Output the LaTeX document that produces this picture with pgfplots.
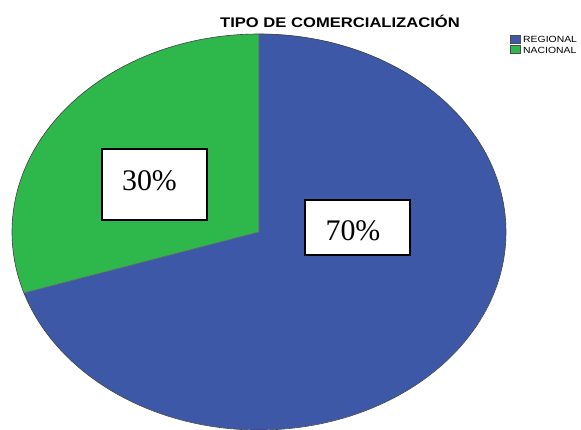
\documentclass[border=0pt]{standalone}
\usepackage{fontspec}
\setmainfont{Liberation Serif}
\newfontfamily\arial{Liberation Sans}
\usepackage{pgfplots}
\pgfplotsset{compat=1.18}
\definecolor{pieblue}{HTML}{3E58A8}
\definecolor{piegreen}{HTML}{2EB74B}
% data: share of each category (percent)
\def\valRegional{70}
\def\valNacional{30}
\begin{document}
\begin{tikzpicture}
\path[use as bounding box] (0,0) rectangle (581bp,430bp);
\pgfmathsetmacro{\angG}{90+3.6*\valNacional}
\pgfmathsetmacro{\angB}{\angG+3.6*\valRegional}
\begin{axis}[
  at={(0,0)}, anchor=south west,
  x=1bp, y=1bp, scale only axis,
  xmin=0, xmax=581, ymin=0, ymax=430,
  hide axis, clip=true,
]
% pie sectors (elliptical)
\fill[piegreen] (axis cs:259,198) -- (axis cs:259,396) arc[start angle=90, end angle=\angG, x radius=247bp, y radius=198bp] -- cycle;
\fill[pieblue] (axis cs:259,198) -- (axis cs:24,137) arc[start angle=\angG, end angle=\angB, x radius=247bp, y radius=198bp] -- cycle;
\draw[black!75, line width=0.6bp] (axis cs:259,396) arc[start angle=90, end angle=450, x radius=247bp, y radius=198bp];
\draw[black!60, line width=0.6bp] (axis cs:259,396) -- (axis cs:259,198) -- (axis cs:24,137);
% title
\node[anchor=base, xscale=1.19, font=\arial\bfseries\fontsize{14}{15}\selectfont, inner sep=0pt] at (axis cs:340,402.5) {TIPO DE COMERCIALIZACIÓN};
% legend
\draw[black!70, line width=0.6bp, fill=pieblue] (axis cs:510.5,387) rectangle (axis cs:520.5,395);
\draw[black!70, line width=0.6bp, fill=piegreen] (axis cs:510.5,376.5) rectangle (axis cs:520.5,384.5);
\node[anchor=base west, xscale=1.16, font=\arial\fontsize{9}{10}\selectfont, inner sep=0pt] at (axis cs:523,387.3) {REGIONAL};
\node[anchor=base west, xscale=1.16, font=\arial\fontsize{9}{10}\selectfont, inner sep=0pt] at (axis cs:523,376.8) {NACIONAL};
% value boxes
\node[draw=black, line width=2bp, fill=white, minimum width=105bp, minimum height=71bp, inner sep=0pt] at (axis cs:154.5,245.5) {};
\node[anchor=base, font=\fontsize{30}{32}\selectfont, inner sep=0pt] at (axis cs:149.5,240) {30\%};
\node[draw=black, line width=2bp, fill=white, minimum width=105bp, minimum height=55bp, inner sep=0pt] at (axis cs:357.5,202.5) {};
\node[anchor=base, font=\fontsize{30}{32}\selectfont, inner sep=0pt] at (axis cs:353,190) {70\%};
\end{axis}
\end{tikzpicture}
\end{document}
